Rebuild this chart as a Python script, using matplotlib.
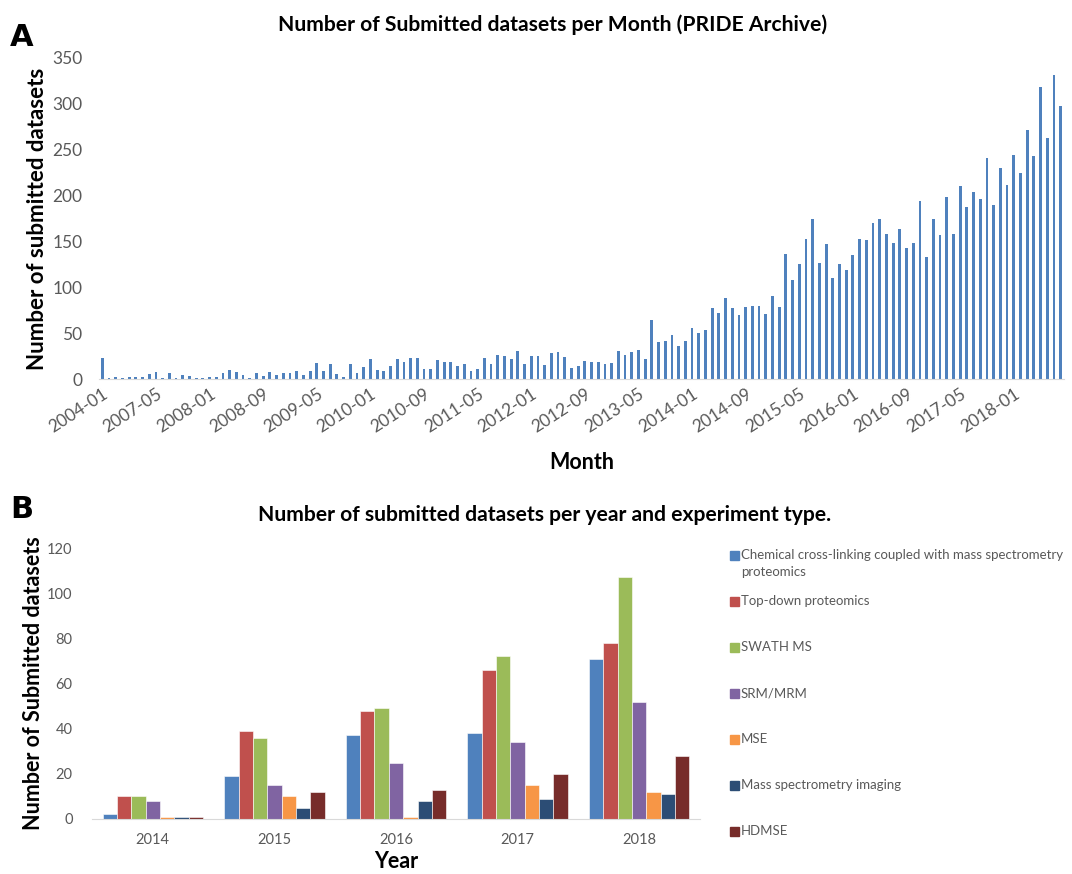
import matplotlib.pyplot as plt
import numpy as np
import pandas as pd
from matplotlib.patches import Rectangle

plt.rcParams['font.family'] = ['Lato', 'DejaVu Sans']

# ---- Panel A data: submitted datasets per month ----
months = ['2004-01'] + [str(p) for p in pd.period_range('2006-10', '2018-08', freq='M')]
monthly_counts = [
    23, 1, 2, 1, 2, 2, 2, 5, 8, 1, 6, 1, 4, 3, 1, 1, 2, 2, 6, 10,
    8, 4, 1, 6, 3, 8, 4, 6, 7, 9, 4, 9, 17, 9, 16, 5, 2, 16, 7, 13,
    22, 10, 9, 14, 22, 19, 23, 23, 11, 11, 21, 18, 18, 14, 16, 9, 11, 23, 16, 26,
    25, 22, 30, 16, 25, 25, 15, 28, 29, 24, 12, 14, 20, 18, 19, 16, 17, 31, 26, 29,
    32, 22, 64, 40, 41, 48, 36, 41, 56, 50, 53, 77, 72, 88, 77, 70, 78, 80, 80, 71,
    90, 79, 136, 108, 125, 153, 175, 127, 147, 110, 125, 119, 135, 153, 152, 170, 175, 158, 148, 164,
    143, 148, 194, 133, 175, 157, 198, 158, 210, 188, 204, 196, 241, 190, 230, 211, 244, 225, 271, 243,
    318, 263, 331, 298,
]

# ---- Panel B data: datasets per year and experiment type ----
years = ['2014', '2015', '2016', '2017', '2018']
exp_types = ['Chemical cross-linking coupled with mass spectrometry\nproteomics',
             'Top-down proteomics', 'SWATH MS', 'SRM/MRM', 'MSE',
             'Mass spectrometry imaging', 'HDMSE']
crosslinking = [2, 19, 37, 38, 71]
topdown = [10, 39, 48, 66, 78]
swath = [10, 36, 49, 72, 107]
srm_mrm = [8, 15, 25, 34, 52]
mse = [1, 10, 1, 15, 12]
imaging = [1, 5, 8, 9, 11]
hdmse = [1, 12, 13, 20, 28]
colors = ['#4F81BD', '#C0504D', '#9BBB59', '#8064A2', '#F79646', '#2C4D75', '#772C2A']

W, H = 1072, 874
fig = plt.figure(figsize=(W / 100, H / 100), dpi=100)
grey = '#595959'

# ---------------- Panel A ----------------
axA = fig.add_axes([99 / W, 1 - 379 / H, (1064 - 99) / W, (379 - 58) / H])
x = np.arange(len(months))
axA.bar(x, monthly_counts, width=0.42, color='#4F81BD')
axA.set_xlim(-0.5, len(months) - 0.5)
axA.set_ylim(0, 350)
axA.set_yticks(range(0, 351, 50))
axA.set_xticks(x[::8])
axA.set_xticklabels(months[::8], rotation=33, ha='right', rotation_mode='anchor')
axA.tick_params(length=0, labelsize=12.5, colors=grey, pad=5)
axA.tick_params(axis='y', pad=12)
for s in ['top', 'right', 'left']:
    axA.spines[s].set_visible(False)
axA.spines['bottom'].set_color('#D9D9D9')
axA.set_ylabel('Number of submitted datasets', fontsize=16, fontweight='bold', labelpad=3)
axA.set_xlabel('Month', fontsize=15.5, fontweight='bold', labelpad=12)
fig.text(553 / W, 1 - 25 / H, 'Number of Submitted datasets per Month (PRIDE Archive)',
         ha='center', va='center', fontsize=15.2, fontweight='bold')
fig.text(10 / W, 1 - 37 / H, 'A', ha='left', va='center', fontsize=22,
         fontweight='bold', family='DejaVu Sans')

# ---------------- Panel B ----------------
axB = fig.add_axes([92 / W, 1 - 819 / H, (700 - 92) / W, (819 - 548) / H])
series = [crosslinking, topdown, swath, srm_mrm, mse, imaging, hdmse]
xb = np.arange(len(years))
bw = 0.118
for j, vals in enumerate(series):
    axB.bar(xb + (j - 3) * bw, vals, width=bw, color=colors[j],
            edgecolor='white', linewidth=0.4)
axB.set_xlim(-0.5, len(years) - 0.5)
axB.set_ylim(0, 120)
axB.set_yticks(range(0, 121, 20))
axB.set_xticks(xb)
axB.set_xticklabels(years)
axB.tick_params(length=0, labelsize=10.5, colors=grey)
axB.tick_params(axis='y', pad=14)
axB.tick_params(axis='x', pad=10)
for s in ['top', 'right', 'left']:
    axB.spines[s].set_visible(False)
axB.spines['bottom'].set_color('#D9D9D9')
axB.set_ylabel('Number of Submitted datasets', fontsize=15.5, fontweight='bold', labelpad=2)
axB.set_xlabel('Year', fontsize=15.5, fontweight='bold', labelpad=3)
fig.text(545 / W, 1 - 515 / H, 'Number of submitted datasets per year and experiment type.',
         ha='center', va='center', fontsize=15.2, fontweight='bold')
fig.text(10 / W, 1 - 510 / H, 'B', ha='left', va='center', fontsize=22,
         fontweight='bold', family='DejaVu Sans')

# legend, drawn at the right of panel B
for j, name in enumerate(exp_types):
    yc = 556 + 46 * j
    fig.add_artist(Rectangle((730 / W, 1 - (yc + 4) / H), 9 / W, 9 / H,
                             transform=fig.transFigure, color=colors[j]))
    fig.text(741 / W, 1 - (yc - 7) / H, name, ha='left', va='top',
             fontsize=9.5, color=grey, linespacing=1.45)

fig.savefig('out.png', dpi=100)
